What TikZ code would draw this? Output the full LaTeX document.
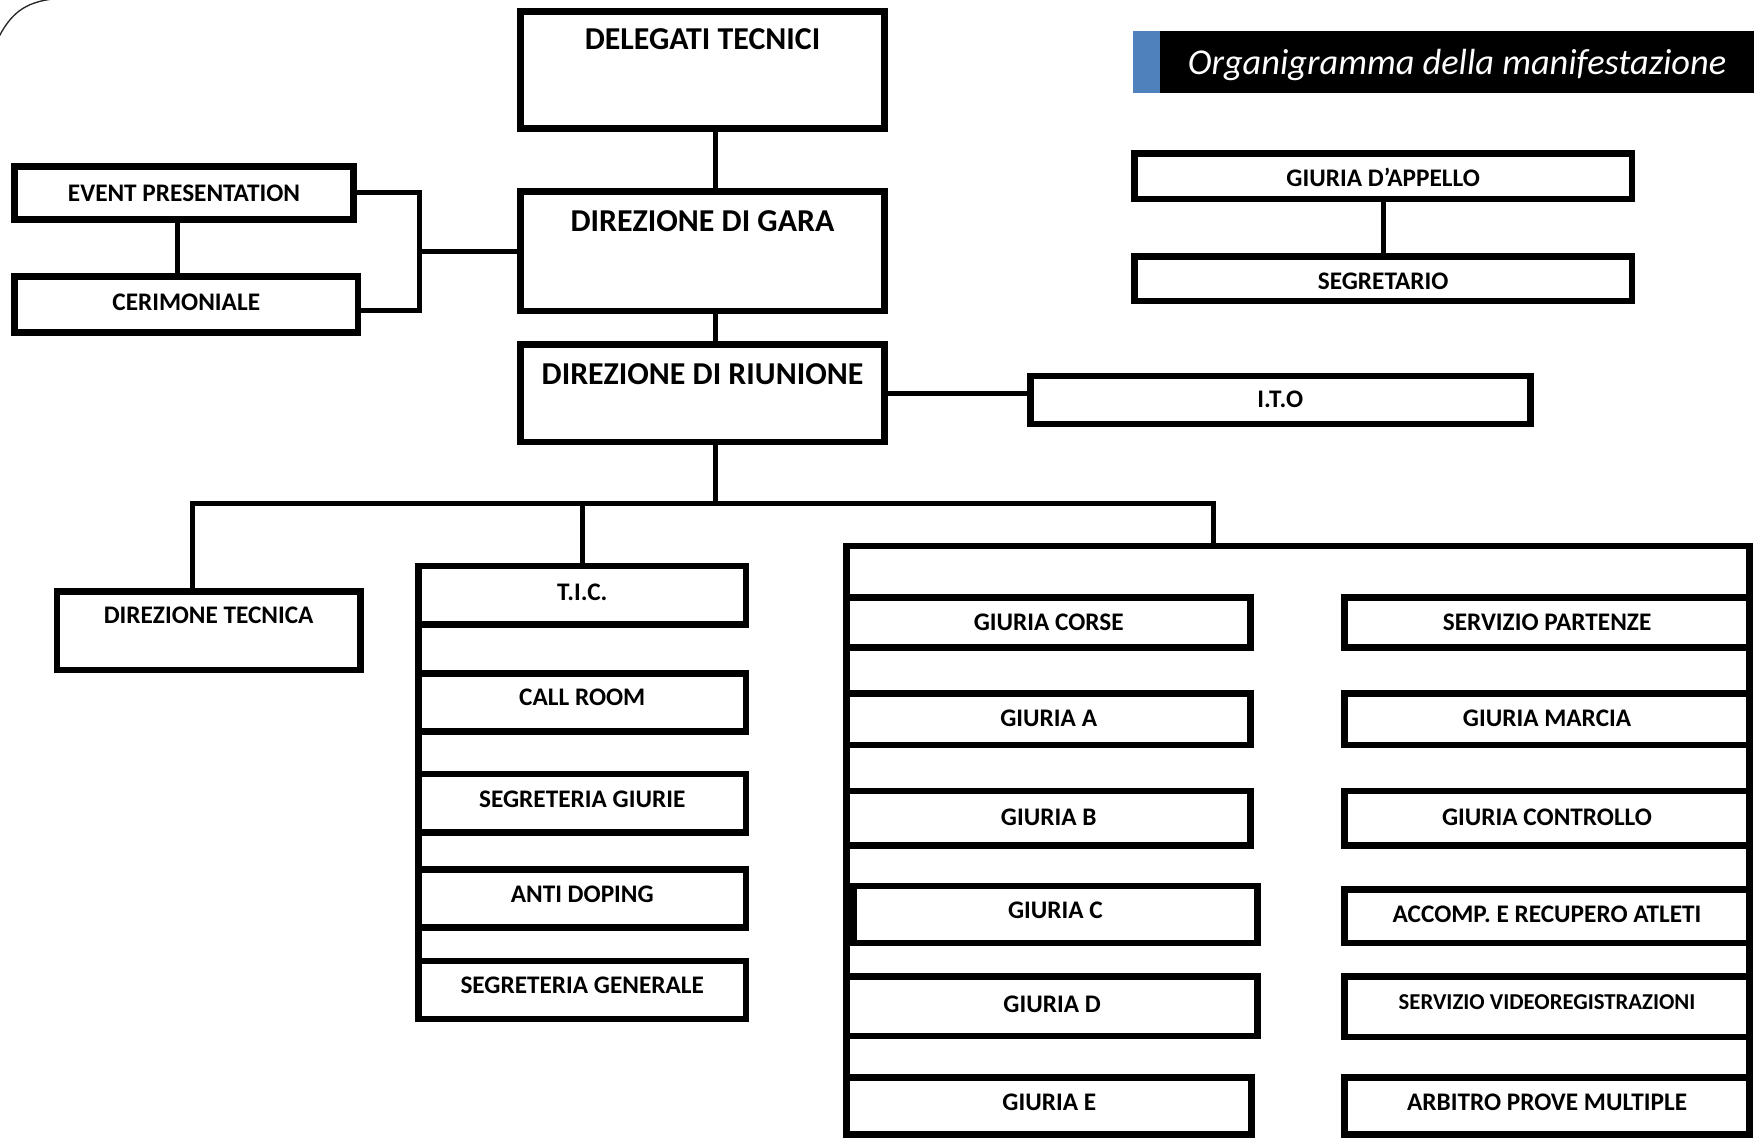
\documentclass[tikz,border=0pt]{standalone}
\usepackage{fontspec}
\setmainfont{Carlito}
\usepackage{tikz}
\definecolor{tabblue}{RGB}{79,129,189}

\begin{document}
\begin{tikzpicture}[x=1pt,y=-1pt]
    \tikzstyle{edge}  = [line width=4.5pt,draw=black]
    \tikzstyle{spine} = [line width=6pt,draw=black]
    \tikzstyle{unitbox}=[
      draw=black,
      fill=white,
      line width=6pt,
      anchor=north west,
      inner sep=0pt,
      outer sep=0pt,
      font=\bfseries\fontsize{22.6}{25}\selectfont
    ]
    \tikzstyle{headbox}=[
      unitbox,
      font=\bfseries\fontsize{28.5}{32}\selectfont
    ]
    \useasboundingbox (0,0) rectangle (1568,1017);

    % page corner
    \draw[line width=1.2pt,draw=black!85] (-3,37) .. controls (9,12) and (22,2) .. (48,-1);

    % title
    \node[fill=tabblue,anchor=north west,inner sep=0pt,outer sep=0pt,minimum width=24pt,minimum height=55pt] (title tab) at (1013,28) {};
    \node[fill=black,text=white,anchor=north west,inner sep=0pt,outer sep=0pt,minimum width=531pt,text height=39pt,text depth=16pt,
      font=\itshape\fontsize{32.5}{38}\selectfont] (title) at (1037,28) {Organigramma della manifestazione};

    % central spine
    \node[headbox,minimum width=326pt,text height=34pt,text depth=71pt] (delegati) at (465,10) {DELEGATI TECNICI};
    \node[headbox,minimum width=326pt,text height=36pt,text depth=71pt] (gara) at (465,171) {DIREZIONE DI GARA};
    \node[headbox,minimum width=326pt,text height=36pt,text depth=51pt] (riunione) at (465,308) {DIREZIONE DI RIUNIONE};

    \node[unitbox,minimum width=303pt,text height=31.3pt,text depth=15.7pt] (event) at (13,149) {EVENT PRESENTATION};
    \node[unitbox,minimum width=307pt,text height=30.7pt,text depth=19.3pt] (cerimoniale) at (13,247) {CERIMONIALE};
    \node[unitbox,minimum width=447pt,text height=28.7pt,text depth=14.3pt] (ito) at (921,336) {I.T.O};
    \node[unitbox,minimum width=445pt,text height=29.7pt,text depth=11.3pt] (appello) at (1014,137) {GIURIA D’APPELLO};
    \node[unitbox,minimum width=445pt,text height=29.7pt,text depth=10.3pt] (segretario) at (1014,229) {SEGRETARIO};
    \node[unitbox,minimum width=271pt,text height=28.7pt,text depth=41.3pt] (direzione tecnica) at (51,529) {DIREZIONE TECNICA};

    % services column
    \node[unitbox,minimum width=293pt,text height=30.7pt,text depth=21.3pt] (tic) at (374,506) {T.I.C.};
    \node[unitbox,minimum width=293pt,text height=28.7pt,text depth=23.3pt] (call room) at ([yshift=-44]tic.south west) {CALL ROOM};
    \node[unitbox,minimum width=293pt,text height=29.7pt,text depth=22.3pt] (segreteria giurie) at ([yshift=-38]call room.south west) {SEGRETERIA GIURIE};
    \node[unitbox,minimum width=293pt,text height=29.7pt,text depth=22.3pt] (anti doping) at ([yshift=-33]segreteria giurie.south west) {ANTI DOPING};
    \node[unitbox,minimum width=293pt,text height=28.7pt,text depth=23.3pt] (segreteria generale) at ([yshift=-30]anti doping.south west) {SEGRETERIA GENERALE};

    % juries block
    \node[unitbox,minimum width=807pt,minimum height=560pt] (giurie) at (757,488) {};
    \node[unitbox,minimum width=361pt,text height=29.7pt,text depth=15.3pt] (giuria corse) at (757,534) {GIURIA CORSE};
    \node[unitbox,minimum width=361pt,text height=29.7pt,text depth=16.3pt] (giuria a) at ([yshift=-41]giuria corse.south west) {GIURIA A};
    \node[unitbox,minimum width=361pt,text height=30.7pt,text depth=18.3pt] (giuria b) at ([yshift=-41]giuria a.south west) {GIURIA B};
    \node[unitbox,minimum width=361pt,text height=28.7pt,text depth=22.3pt] (giuria c) at ([xshift=6,yshift=-36]giuria b.south west) {GIURIA C};
    \node[unitbox,minimum width=367pt,text height=31.7pt,text depth=21.3pt] (giuria d) at ([xshift=-6,yshift=-30]giuria c.south west) {GIURIA D};
    \node[unitbox,minimum width=362pt,text height=29.7pt,text depth=21.3pt] (giuria e) at ([yshift=-37]giuria d.south west) {GIURIA E};

    \node[unitbox,minimum width=362pt,text height=29.7pt,text depth=15.3pt] (partenze) at (1202,534) {SERVIZIO PARTENZE};
    \node[unitbox,minimum width=362pt,text height=29.7pt,text depth=16.3pt] (marcia) at ([yshift=-41]partenze.south west) {GIURIA MARCIA};
    \node[unitbox,minimum width=362pt,text height=30.7pt,text depth=18.3pt] (controllo) at ([yshift=-41]marcia.south west) {GIURIA CONTROLLO};
    \node[unitbox,minimum width=362pt,text height=29.7pt,text depth=18.3pt] (accompagnamento) at ([yshift=-39]controllo.south west) {ACCOMP. E RECUPERO ATLETI};
    \node[unitbox,minimum width=362pt,text height=29pt,text depth=25pt,font=\bfseries\fontsize{20.3}{23}\selectfont] (video) at ([yshift=-30]accompagnamento.south west) {SERVIZIO VIDEOREGISTRAZIONI};
    \node[unitbox,minimum width=362pt,text height=29.7pt,text depth=21.3pt] (prove multiple) at ([yshift=-36]video.south west) {ARBITRO PROVE MULTIPLE};

    % connectors
    \draw[edge] ([xshift=12]delegati.south) -- ([xshift=12]gara.north);
    \draw[edge] ([xshift=12]gara.south) -- ([xshift=12]riunione.north);
    \draw[edge] ([xshift=-6]event.south) -- ([xshift=-6]event.south |- cerimoniale.north);
    \draw[edge] (event.east) -- ++(58.8,0) coordinate (bracket) |- ([yshift=-5.7]cerimoniale.east);
    \draw[edge] (gara.west) -- (gara.west -| bracket);
    \draw[edge] (riunione.east) -- (riunione.east -| ito.west);
    \draw[edge] (appello.south) -- (segretario.north);
    \draw[edge] ([xshift=12]riunione.south) -- ++(0,55) coordinate (bus);
    \draw[edge] ([xshift=-14.5]direzione tecnica.north) |- (bus);
    \draw[edge] (bus) -| ([xshift=-75.5]giurie.north);
    \draw[edge] (tic.north) -- (tic.north |- bus);
    \draw[spine] (tic.north west) -- (segreteria generale.south west);
  \end{tikzpicture}
\end{document}
